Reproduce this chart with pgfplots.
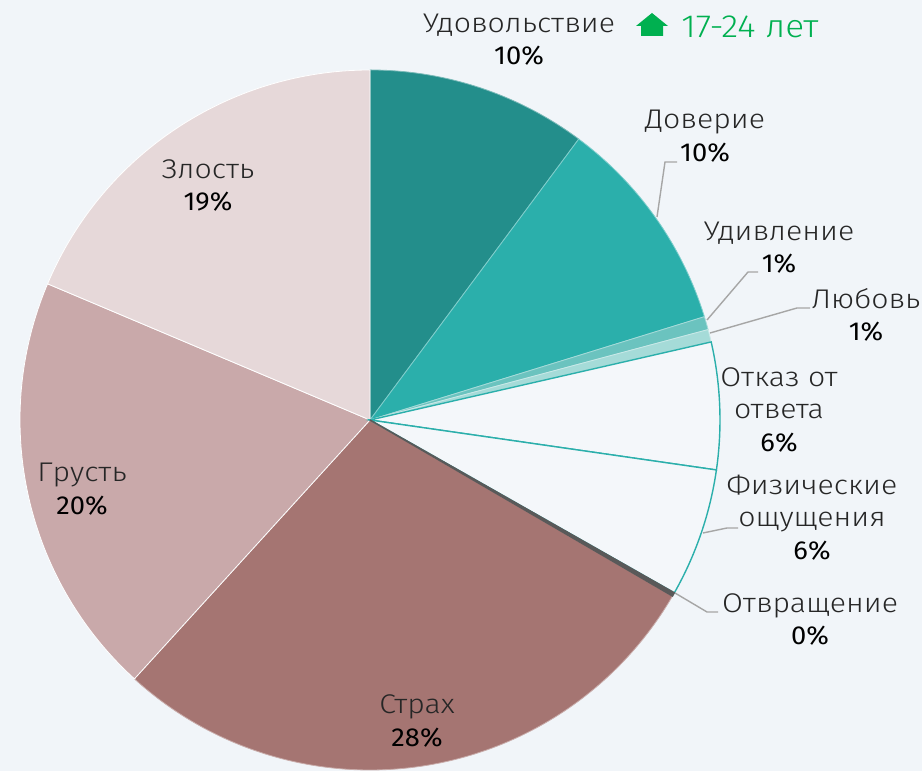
\documentclass[border=0pt]{standalone}
\usepackage{pgfplots}
\usepackage{pgfplotstable}
\pgfplotsset{compat=1.18}
\usepackage{fontspec}
\setmainfont{Fira Sans}
\newfontfamily\lightfont{Fira Sans Light}[FakeStretch=1.12]
\newfontfamily\pcfont{Fira Sans}[FakeStretch=1.05]
\newfontfamily\titlefont{Fira Sans Light}[FakeStretch=1.1]
\definecolor{bg}{HTML}{F1F5F9}
\definecolor{cA}{HTML}{238E8B}
\definecolor{cB}{HTML}{2BAFAB}
\definecolor{cC}{HTML}{6BC3BF}
\definecolor{cD}{HTML}{A5DBD8}
\definecolor{cE}{HTML}{F4F7FA}
\definecolor{cF}{HTML}{F4F7FA}
\definecolor{cG}{HTML}{595959}
\definecolor{cH}{HTML}{A57572}
\definecolor{cI}{HTML}{C9A9AA}
\definecolor{cJ}{HTML}{E6D8D9}
\definecolor{teal2}{HTML}{2BAFAB}
\definecolor{lead}{HTML}{A6A6A6}
\definecolor{txt}{HTML}{262626}
\definecolor{grn}{HTML}{00B050}
\tikzset{
  nm/.style={font=\lightfont\fontsize{13.5}{15}\selectfont,text=txt,anchor=base,inner sep=0pt},
  pc/.style={font=\pcfont\fontsize{13}{15}\selectfont,text=black,anchor=base,inner sep=0pt}}
\pgfplotstableread{
name val
Udovolstvie 10.17
Doverie 10.06
Udivlenie 0.61
Lyubov 0.58
Otkaz 5.86
Fiz 5.94
Otvr 0.17
Strakh 28.36
Grust 19.61
Zlost 18.64
}\piedata
\def\cum{0}%
\pgfplotsforeachungrouped \i in {0,...,9}{%
  \pgfplotstablegetelem{\i}{val}\of\piedata%
  \pgfmathsetmacro\a{90-\cum*3.6}%
  \pgfmathsetmacro\cum{\cum+\pgfplotsretval}%
  \pgfmathsetmacro\b{90-\cum*3.6}%
  \expandafter\xdef\csname sA\i\endcsname{\a}%
  \expandafter\xdef\csname sB\i\endcsname{\b}%
}%
\def\sa#1{\csname sA#1\endcsname}
\def\sb#1{\csname sB#1\endcsname}
\newcommand\slice[3]{%
  \filldraw[fill=#2,draw=#3] (axis cs:370,351) -- ++(\sa{#1}:175pt) arc[start angle=\sa{#1}, end angle=\sb{#1}, radius=175pt] -- cycle;}
\begin{document}
\begin{tikzpicture}
\begin{axis}[x=0.5pt,y=0.5pt,xmin=0,xmax=922,ymin=0,ymax=771,hide axis,clip=false]
\fill[bg] (axis cs:0,0) rectangle (axis cs:922,771);
\coordinate (bgsw) at (axis cs:0,0);
\coordinate (bgne) at (axis cs:922,771);
\begin{scope}[line width=0.4pt]
\slice{0}{cA}{cA!60!white}
\slice{1}{cB}{cB!60!white}
\slice{2}{cC}{cC!60!white}
\slice{3}{cD}{cD!60!white}
\slice{7}{cH}{cH!60!white}
\slice{8}{cI}{white}
\slice{9}{cJ}{white}
\end{scope}
\begin{scope}[line width=0.7pt]
\slice{4}{cE}{teal2}
\slice{5}{cF}{teal2}
\slice{6}{cG}{cG}
\end{scope}
% leader lines
\draw[lead,line width=0.7pt] (axis cs:677,771-162) -- (axis cs:665,771-162) -- (axis cs:657,771-217);
\draw[lead,line width=0.7pt] (axis cs:758,771-272) -- (axis cs:748,771-272) -- (axis cs:707,771-320);
\draw[lead,line width=0.7pt] (axis cs:810,771-308) -- (axis cs:797,771-308) -- (axis cs:710,771-333);
\draw[lead,line width=0.7pt] (axis cs:738,771-528) -- (axis cs:727,771-528) -- (axis cs:703,771-533);
\draw[lead,line width=0.7pt] (axis cs:718,771-612) -- (axis cs:707,771-612) -- (axis cs:675,771-593);
% labels
\node[nm] at (axis cs:519,771-33) {Удовольствие};
\node[pc] at (axis cs:519,771-65) {10\%};
\node[nm] at (axis cs:705,771-129) {Доверие};
\node[pc] at (axis cs:705,771-162) {10\%};
\node[nm] at (axis cs:779,771-241) {Удивление};
\node[pc] at (axis cs:779,771-273) {1\%};
\node[nm] at (axis cs:866,771-309) {Любовь};
\node[pc] at (axis cs:866,771-341) {1\%};
\node[nm] at (axis cs:779,771-387) {Отказ от};
\node[nm] at (axis cs:779,771-419) {ответа};
\node[pc] at (axis cs:779,771-452) {6\%};
\node[nm] at (axis cs:812,771-495) {Физические};
\node[nm] at (axis cs:812,771-527) {ощущения};
\node[pc] at (axis cs:812,771-560) {6\%};
\node[nm] at (axis cs:810,771-613) {Отвращение};
\node[pc] at (axis cs:810,771-645) {0\%};
\node[nm] at (axis cs:208,771-179) {Злость};
\node[pc] at (axis cs:208,771-211) {19\%};
\node[nm] at (axis cs:82,771-482) {Грусть};
\node[pc] at (axis cs:82,771-515) {20\%};
\node[nm] at (axis cs:417,771-714) {Страх};
\node[pc] at (axis cs:417,771-747) {28\%};
% title
\fill[grn] (axis cs:641,771-36) -- (axis cs:641,771-26) -- (axis cs:636,771-26) -- (axis cs:652,771-13) -- (axis cs:668,771-26) -- (axis cs:663,771-26) -- (axis cs:663,771-36) -- cycle;
\node[font=\titlefont\fontsize{16}{18}\selectfont,text=grn,anchor=base west,inner sep=0pt] at (axis cs:681,771-38) {17-24 лет};
\end{axis}
\pgfresetboundingbox
\path[use as bounding box] (bgsw) rectangle (bgne);
\end{tikzpicture}
\end{document}
